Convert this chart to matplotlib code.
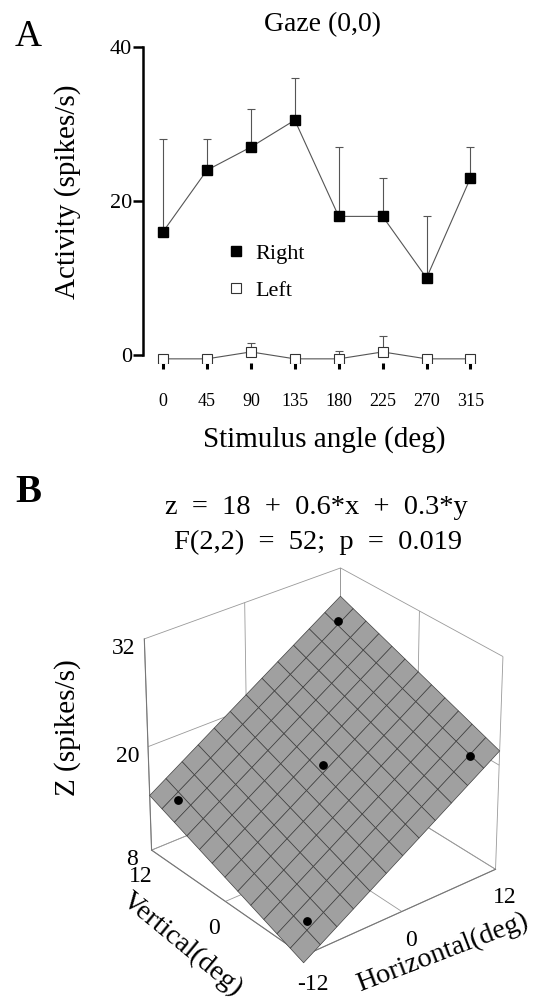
import numpy as np
import matplotlib.pyplot as plt

plt.rcParams['font.family'] = ['Liberation Serif', 'DejaVu Serif']
plt.rcParams['axes.unicode_minus'] = False

# Panel A data: activity vs stimulus angle, gaze (0,0)
angles = [0, 45, 90, 135, 180, 225, 270, 315]
right_mean = [16, 24, 27, 30.5, 18, 18, 10, 23]
right_err = [12, 4, 5, 5.5, 9, 5, 8, 4]
left_mean = [-0.5, -0.5, 0.4, -0.5, -0.5, 0.4, -0.5, -0.5]
left_err = [0, 0, 1.1, 0, 1.0, 2.1, 0, 0]

# Panel B data: gaze-field regression
gaze_h = [10, -10, 10, -10, 0]
gaze_v = [10, -10, -10, 10, 0]
gaze_z = [27.5, 10.1, 20.8, 14.0, 19.0]
coef = [18, 0.6, 0.3]   # intercept, horizontal, vertical

W, H = 533, 1002
fig = plt.figure(figsize=(W / 100, H / 100), dpi=100)

def fx(px):
    return px / W

def fy(py):
    return 1 - py / H

# ---- panel A ----
ax = fig.add_axes([fx(143), fy(362.7), fx(490) - fx(143), fy(47) - fy(362.7)])
ax.errorbar(angles, right_mean, yerr=[np.zeros(8), right_err], fmt='none',
            ecolor='#555555', elinewidth=0.8, capsize=3, capthick=0.8)
ax.errorbar(angles, left_mean, yerr=[np.zeros(8), left_err], fmt='none',
            ecolor='#555555', elinewidth=0.8, capsize=3, capthick=0.8)
ax.plot(angles, right_mean, color='#555555', lw=0.8, marker='s', ms=7,
        mfc='black', mec='black', label='Right')
ax.plot(angles, left_mean, color='#555555', lw=0.8, marker='s', ms=7,
        mfc='white', mec='#333333', mew=0.8, label='Left')
ax.set_xlim(-20.5, 335)
ax.set_ylim(-1.0, 40)
for s in ['top', 'right', 'bottom']:
    ax.spines[s].set_visible(False)
ax.spines['left'].set_bounds(0, 40)
ax.spines['left'].set_linewidth(1.8)
ax.set_yticks([0, 20, 40])
ax.tick_params(axis='y', length=7, width=1.8, pad=1, labelsize=16)
ax.set_xticks(angles)
ax.tick_params(axis='x', length=4.5, width=2.2, pad=17, labelsize=13)
leg = ax.legend(loc='center left', bbox_to_anchor=(fx(209), fy(272)),
                bbox_transform=fig.transFigure, frameon=False, fontsize=16,
                handlelength=0.6, handletextpad=0.6, labelspacing=0.75)
for h in leg.legend_handles:
    h.set_linestyle('none')

fig.text(fx(322), fy(25), 'Gaze (0,0)', ha='center', va='center', fontsize=20)
fig.text(fx(28), fy(37), 'A', ha='center', va='center', fontsize=27)
fig.text(fx(68), fy(192), 'Activity (spikes/s)', ha='center', va='center',
         rotation=90, fontsize=21)
fig.text(fx(324), fy(440), 'Stimulus angle (deg)', ha='center', va='center',
         fontsize=21)

# ---- panel B ----
sp = '\u2002'
fig.text(fx(28), fy(492), 'B', ha='center', va='center', fontsize=28,
         fontweight='bold')
fig.text(fx(316), fy(508), sp.join(['z', '=', '18', '+', '0.6*x', '+', '0.3*y']),
         ha='center', va='center', fontsize=20.5)
fig.text(fx(318), fy(542), sp.join(['F(2,2)', '=', '52;', 'p', '=', '0.019']),
         ha='center', va='center', fontsize=20.5)

ax3 = fig.add_axes([fx(61), fy(970), fx(573) - fx(61), fy(553) - fy(970)],
                   projection='3d', computed_zorder=False)
ax3.set_proj_type('persp', focal_length=1.3)
ax3.view_init(elev=30, azim=-129)
ax3.set_box_aspect((1, 1, 0.98))

g = np.linspace(-12, 12, 13)
X, Y = np.meshgrid(g, g)
Z = coef[0] + coef[1] * X + coef[2] * Y
ax3.plot_surface(X, Y, Z, color='#a0a0a0', edgecolor='#404040', linewidth=0.5,
                 shade=False, antialiased=True, zorder=1)
ax3.scatter(gaze_h, gaze_v, gaze_z, color='black', s=28, depthshade=False,
            zorder=5)

ax3.set_xlim(-12, 12)
ax3.set_ylim(-12, 12)
ax3.set_zlim(8, 32)
ax3.set_xticks([-12, 0, 12])
ax3.set_yticks([-12, 0, 12])
ax3.set_yticklabels(['', '0', '12'])
ax3.set_zticks([8, 20, 32])
ax3.tick_params(labelsize=17, pad=1)
for a in (ax3.xaxis, ax3.yaxis, ax3.zaxis):
    a.set_pane_color((1, 1, 1, 0))
    a.pane.set_edgecolor('#777777')
    a.line.set_color('#777777')
    a.line.set_linewidth(0.8)
    a._axinfo['grid']['color'] = '#999999'
    a._axinfo['grid']['linewidth'] = 0.6
    a._axinfo['tick']['inward_factor'] = 0
    a._axinfo['tick']['outward_factor'] = 0

fig.text(fx(68), fy(728), 'Z (spikes/s)', ha='center', va='center',
         rotation=90, fontsize=21)
fig.text(fx(182), fy(945), 'Vertical(deg)', ha='center', va='center',
         rotation=-39.5, rotation_mode='anchor', fontsize=20.5)
fig.text(fx(443), fy(953), 'Horizontal(deg)', ha='center', va='center',
         rotation=21, rotation_mode='anchor', fontsize=20.5)

fig.savefig('out.png', dpi=100)
